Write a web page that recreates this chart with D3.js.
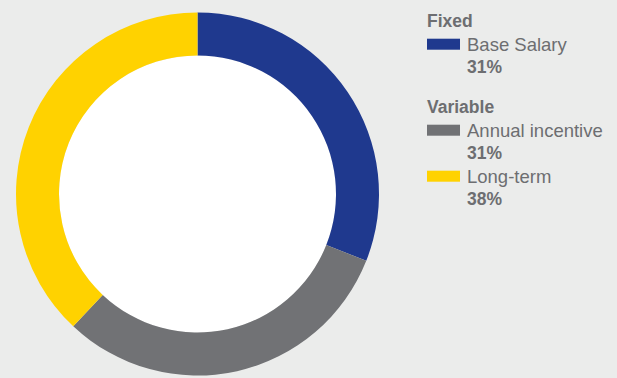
<!DOCTYPE html>
<html>
<head>
<meta charset="utf-8">
<script src="https://cdn.jsdelivr.net/npm/d3@7"></script>
<style>
  html, body { margin: 0; padding: 0; background: #ebeceb; }
  svg { display: block; }
  text { font-family: "Liberation Sans", Arial, Helvetica, sans-serif; }
</style>
</head>
<body>
<svg id="chart" width="617" height="378"></svg>
<script>
// Pay mix: share of total compensation by component
const components = ["Base Salary", "Annual incentive", "Long-term"];
const shares = [31, 31, 38];
const groups = ["Fixed", "Variable", "Variable"];
const colors = ["#1f398e", "#717275", "#ffd200"];

const W = 617, H = 378;
const cx = 197.5, cy = 194;
const rOuter = 181.5, rInner = 138.5;
const textColor = "#6d6e71";

const svg = d3.select("#chart");
svg.append("rect").attr("width", W).attr("height", H).attr("fill", "#ebeceb");

const data = components.map((c, i) => ({ name: c, value: shares[i], group: groups[i], color: colors[i] }));

const pie = d3.pie().value(d => d.value).sort(null).startAngle(0).endAngle(2 * Math.PI);
const arc = d3.arc().innerRadius(rInner).outerRadius(rOuter);

const ring = svg.append("g").attr("transform", `translate(${cx},${cy})`);
ring.append("circle").attr("r", rInner).attr("fill", "#ffffff");
ring.selectAll("path.slice")
  .data(pie(data))
  .join("path")
  .attr("class", "slice")
  .attr("d", arc)
  .attr("fill", d => d.data.color);

// Legend, grouped by pay type
const legend = svg.append("g").attr("transform", "translate(427,0)");
const groupTop = { "Fixed": 26.7, "Variable": 112.7 };
const rowStep = 46;
const fs = 18.5;
const fsBold = 17.5;

const seen = {};
const idxInGroup = {};
data.forEach(d => {
  if (!seen[d.group]) {
    seen[d.group] = true;
    idxInGroup[d.group] = 0;
    legend.append("text")
      .attr("x", 0).attr("y", groupTop[d.group])
      .attr("font-size", fsBold).attr("font-weight", "bold")
      .attr("fill", textColor)
      .text(d.group);
  }
  const k = idxInGroup[d.group]++;
  const base = groupTop[d.group] + 24 + k * rowStep;
  legend.append("rect")
    .attr("x", 0).attr("y", base - 12)
    .attr("width", 33).attr("height", 11)
    .attr("fill", d.color);
  legend.append("text")
    .attr("x", 40).attr("y", base)
    .attr("font-size", fs)
    .attr("fill", textColor)
    .text(d.name);
  legend.append("text")
    .attr("x", 40).attr("y", base + 22.3)
    .attr("font-size", fsBold).attr("font-weight", "bold")
    .attr("fill", textColor)
    .text(d.value + "%");
});
</script>
</body>
</html>
